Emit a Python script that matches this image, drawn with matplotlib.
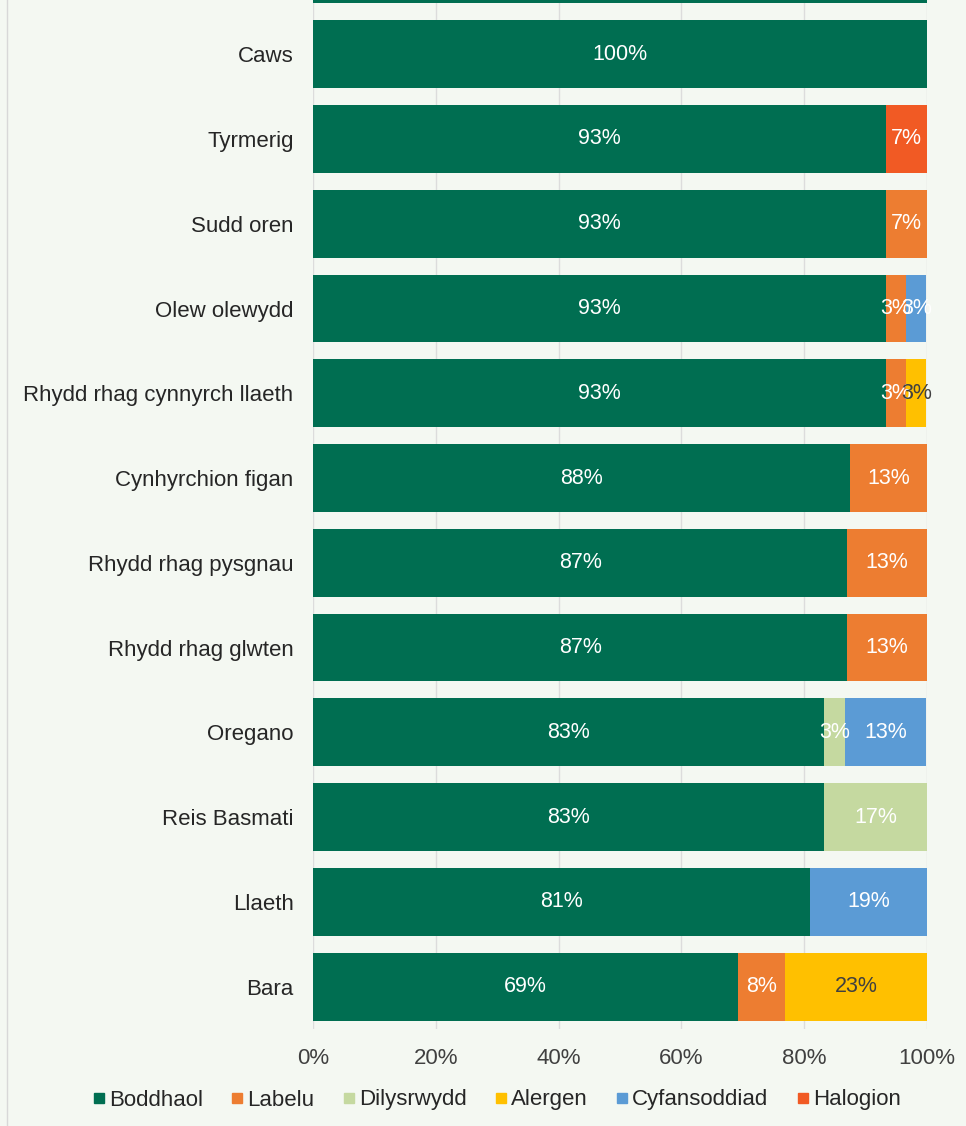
import numpy as np
import matplotlib.pyplot as plt
from matplotlib.lines import Line2D

plt.rcParams['font.family'] = ['Liberation Sans', 'DejaVu Sans']

# categoriau (o'r gwaelod i'r brig) - the top one is cut off in the reference
categories = ['Bara', 'Llaeth', 'Reis Basmati', 'Oregano', 'Rhydd rhag glwten',
              'Rhydd rhag pysgnau', 'Cynhyrchion figan', 'Rhydd rhag cynnyrch llaeth',
              'Olew olewydd', 'Sudd oren', 'Tyrmerig', 'Caws', '']

boddhaol      = [69.2, 81.0, 83.3, 83.3, 87.0, 87.0, 87.5, 93.3, 93.3, 93.3, 93.3, 100, 100]
labelu        = [7.7, 0, 0, 0, 13.0, 13.0, 12.5, 3.3, 3.3, 6.7, 0, 0, 0]
dilysrwydd    = [0, 0, 16.7, 3.3, 0, 0, 0, 0, 0, 0, 0, 0, 0]
alergen       = [23.1, 0, 0, 0, 0, 0, 0, 3.3, 0, 0, 0, 0, 0]
cyfansoddiad  = [0, 19.0, 0, 13.3, 0, 0, 0, 0, 3.3, 0, 0, 0, 0]
halogion      = [0, 0, 0, 0, 0, 0, 0, 0, 0, 0, 6.7, 0, 0]

series = [('Boddhaol', boddhaol, '#006e51', 'white'),
          ('Labelu', labelu, '#ed7d31', 'white'),
          ('Dilysrwydd', dilysrwydd, '#c5d9a0', 'white'),
          ('Alergen', alergen, '#ffc000', '#404040'),
          ('Cyfansoddiad', cyfansoddiad, '#5b9bd5', 'white'),
          ('Halogion', halogion, '#f15a24', 'white')]

bg = '#f4f8f2'
fig = plt.figure(figsize=(9.66, 11.26), dpi=100, facecolor=bg)
ax = fig.add_axes([313/966, 0.0861, 614/966, 0.9787])
ax.set_facecolor(bg)

y = np.arange(len(categories))
left = np.zeros(len(categories))
handles = []
for name, vals, col, tcol in series:
    vals = np.array(vals, dtype=float)
    ax.barh(y, vals, left=left, height=0.8, color=col, zorder=3)
    for yi, (l, v) in enumerate(zip(left, vals)):
        if v > 0:
            ax.text(l + v / 2, yi, '%d%%' % int(v + 0.5), ha='center', va='center',
                    color=tcol, fontsize=15.5, zorder=4)
    left += vals
    handles.append(Line2D([], [], marker='s', linestyle='', color=col, markersize=7))

ax.set_xlim(0, 100)
ax.set_ylim(-0.5, len(categories) - 0.5)
ax.set_yticks(y)
ax.set_yticklabels(categories, fontsize=16, color='#262626')
ax.set_xticks([0, 20, 40, 60, 80, 100])
ax.set_xticklabels(['0%', '20%', '40%', '60%', '80%', '100%'], fontsize=16, color='#404040')
ax.tick_params(length=0, pad=14)
ax.tick_params(axis='x', pad=14)
ax.grid(axis='x', color='#dcdcdc', linewidth=1, zorder=0)
for s in ax.spines.values():
    s.set_visible(False)

fig.legend(handles, [s[0] for s in series], loc='center', bbox_to_anchor=(497/966, 1 - 1100/1126),
           ncol=6, frameon=False, fontsize=16, handlelength=0.5, handletextpad=0.2,
           columnspacing=1.3, labelcolor='#262626')

# border on the left of the chart area
fig.add_artist(Line2D([7/966, 7/966], [0, 1], color='#d8d8d8', linewidth=1, transform=fig.transFigure))

fig.savefig('out.png', dpi=100, facecolor=bg)
